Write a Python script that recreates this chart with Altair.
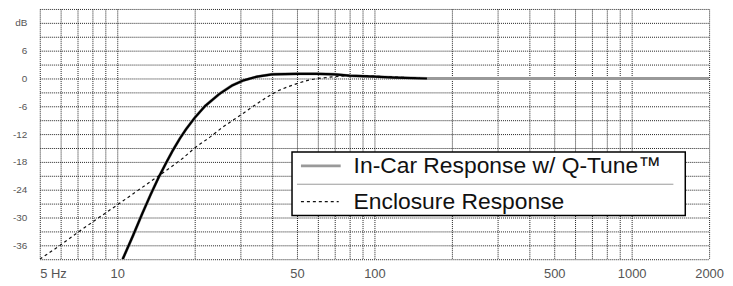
import altair as alt
import pandas as pd

# ---- data ----
incar_freq = [10.5, 11.5, 12.5, 13.5, 14.5, 15.5, 16.5, 17.5, 18.5, 20, 22, 25, 28, 31, 35, 40, 50, 60, 70, 80, 90, 100, 120, 160, 300, 600, 1000, 2000]
incar_db   = [-39, -34.0, -29.2, -25.0, -21.3, -18.2, -15.4, -13.0, -11.0, -8.5, -5.9, -3.3, -1.5, -0.4, 0.4, 0.9, 1.0, 1.0, 0.9, 0.6, 0.5, 0.4, 0.2, 0.0, 0.0, 0.0, 0.0, 0.0]

encl_freq = [5, 6, 7, 8, 10, 12, 14, 16, 18, 20, 23, 26, 30, 34, 38, 42, 46, 50, 55, 60, 70, 80, 90, 100, 120, 150]
encl_db   = [-39, -36.0, -33.3, -31.0, -27.3, -24.2, -21.6, -19.3, -17.2, -15.0, -12.6, -10.3, -8.0, -5.9, -4.1, -2.7, -1.8, -1.1, -0.4, 0.0, 0.4, 0.6, 0.6, 0.5, 0.3, 0.1]

series_names = ["In-Car Response w/ Q-Tune\u2122", "Enclosure Response"]

x_grid = [5, 6, 7, 8, 9, 10, 20, 30, 40, 50, 60, 70, 80, 90, 100,
          200, 300, 400, 500, 600, 700, 800, 900, 1000, 2000]
x_labels = [10, 50, 100, 500, 1000, 2000]
y_grid = list(range(-39, 16, 3))
y_labels = {12: "dB", 6: "6", 0: "0", -6: "-6", -12: "-12", -18: "-18", -24: "-24", -30: "-30", -36: "-36"}

incar = pd.DataFrame({"f": incar_freq, "db": incar_db})
encl = pd.DataFrame({"f": encl_freq, "db": encl_db})

GRID = "#222222"
xscale = alt.Scale(type="log", domain=[5, 2000], nice=False)
yscale = alt.Scale(domain=[-39, 15], nice=False)

ylab_expr = " : ".join(
    "datum.value == %d ? '%s'" % (k, v) for k, v in y_labels.items()) + " : ''"

xaxis = alt.Axis(
    values=x_grid, title=None, grid=True, gridColor=GRID, gridDash=[1, 1], gridWidth=1,
    domain=False, ticks=False, labelPadding=8, labelFontSize=13, labelColor="#555555",
    labelFont="Liberation Sans", labelOverlap=False, labelBound=False,
    labelExpr="datum.value == 5 ? '5 Hz' : (indexof([%s], datum.value) >= 0 ? '' + datum.value : '')"
    % ",".join(str(v) for v in x_labels),
    labelAlign=alt.ConditionalAxisLabelAlign(
        condition={"test": "datum.value == 5", "value": "left"}, value="center"),
)
yaxis = alt.Axis(
    values=y_grid, title=None, grid=True, gridColor=GRID, gridDash=[1, 1], gridWidth=1,
    domain=False, ticks=False, labelPadding=13, labelFontSize=10, labelColor="#555555",
    labelFont="Liberation Sans", labelOverlap=False, labelBound=False, labelFlush=False,
    labelExpr=ylab_expr,
)

X = alt.X("f:Q", scale=xscale, axis=xaxis)
Y = alt.Y("db:Q", scale=yscale, axis=yaxis)

grey_line = alt.Chart(incar).mark_line(color="#999999", strokeWidth=3, clip=True).encode(x=X, y=Y)
encl_line = alt.Chart(encl).mark_line(color="#111111", strokeWidth=1.2, strokeDash=[3, 3], clip=True).encode(x=X, y=Y)
black_line = alt.Chart(incar).transform_filter("datum.f <= 160").mark_line(
    color="#000000", strokeWidth=2.2, clip=True).encode(x=X, y=Y)

# ---- legend box (decoration) ----
one = pd.DataFrame({"k": [0]})
box = alt.Chart(one).mark_rect(fill="white", stroke="#000000", strokeWidth=1.5).encode(
    x=alt.value(254), x2=alt.value(650), y=alt.value(144), y2=alt.value(208))
sep = alt.Chart(one).mark_rule(color="#999999", strokeWidth=1).encode(
    x=alt.value(259), x2=alt.value(638), y=alt.value(176.5))
sym1 = alt.Chart(one).mark_rule(color="#999999", strokeWidth=3).encode(
    x=alt.value(263), x2=alt.value(303), y=alt.value(158))
sym2 = alt.Chart(one).mark_rule(color="#111111", strokeWidth=1.2, strokeDash=[3, 3]).encode(
    x=alt.value(263), x2=alt.value(301), y=alt.value(194))
txt1 = alt.Chart(one).mark_text(align="left", baseline="middle", fontSize=23,
                                font="Liberation Sans", color="#111111").encode(
    x=alt.value(316), y=alt.value(158), text=alt.value(series_names[0]))
txt2 = alt.Chart(one).mark_text(align="left", baseline="middle", fontSize=23,
                                font="Liberation Sans", color="#111111").encode(
    x=alt.value(316), y=alt.value(194), text=alt.value(series_names[1]))

chart = alt.layer(grey_line, encl_line, black_line, box, sep, sym1, sym2, txt1, txt2).properties(
    width=674, height=252,
    autosize=alt.AutoSizeParams(type="none"),
    padding={"left": 32, "top": 0, "right": 16, "bottom": 26},
    background="white",
).configure_view(stroke=None)

chart.save("out.html", embed_options={"renderer": "svg", "actions": False})
